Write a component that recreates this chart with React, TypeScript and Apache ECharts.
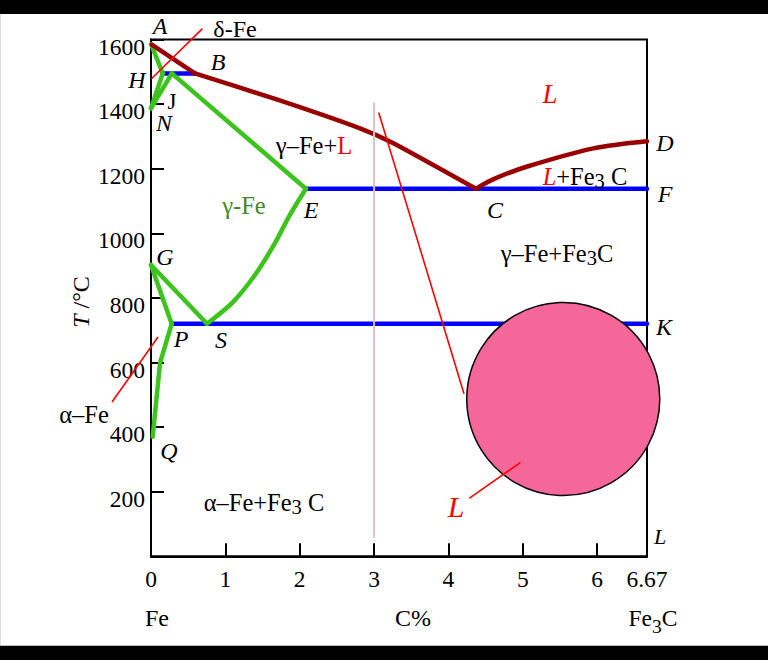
import React, { useEffect, useRef } from 'react';
import * as echarts from 'echarts';

// ---- axis values ----
const xTickValues = [1, 2, 3, 4, 5, 6];
const xLabelValues = [0, 1, 2, 3, 4, 5, 6, 6.67];
const yLabelValues = [200, 400, 600, 800, 1000, 1200, 1400, 1600];

// ---- liquidus (dark red) ----
const liquidusAB = [[0.01, 1584], [0.59, 1495]];
const liquidusBC = [[0.59, 1495], [1.71, 1413], [2.81, 1325], [3.26, 1279], [4.37, 1138]];
const liquidusCD = [[4.37, 1138], [4.6, 1167], [5.05, 1206], [5.95, 1263], [6.67, 1285]];

// ---- phase boundaries (green) ----
const lineAH = [[0, 1586], [0.158, 1495]];
const lineHN = [[0.158, 1495], [0, 1387]];
const lineNJ = [[0, 1387], [0.28, 1495]];
const lineJE = [[0.28, 1495], [2.083, 1138]];
const lineES = [[2.083, 1138], [1.868, 1057], [1.653, 964], [1.398, 871], [1.102, 787], [0.753, 720]];
const lineGS = [[0, 902], [0.753, 720]];
const lineGP = [[0, 902], [0.278, 720]];
const linePQ = [[0.278, 720], [0.121, 598], [0.023, 370]];

// ---- isotherms (blue) ----
const lineHJB = [[0.158, 1495], [0.59, 1495]];
const lineECF = [[2.083, 1138], [6.67, 1138]];
const linePSK = [[0.278, 720], [6.67, 720]];

// ---- annotations ----
const guideX3 = [[3, 60], [3, 1403]];
const redDiagonal = [[3.065, 1372], [4.207, 505]];
const pointerDeltaFe = [[0.013, 1480], [0.685, 1632]];
const pointerL = [[4.288, 181], [4.96, 289]];
const liquidBubble = [[5.544, 487]];

const SERIF = "'Liberation Serif', 'Times New Roman', serif";
const RED_DARK = '#990000';
const GREEN = '#3cc31c';
const BLUE = '#0000ff';

function lineSeries(data: number[][], color: string, width: number, z: number, extra: any = {}) {
  return {
    type: 'line',
    data,
    symbol: 'none',
    showSymbol: false,
    silent: true,
    clip: false,
    z,
    lineStyle: { color, width, cap: 'round', join: 'round' },
    ...extra,
  };
}

function txt(text: string, x: number, y: number, style: any = {}, extra: any = {}) {
  return {
    type: 'text',
    x,
    y,
    z: 100,
    silent: true,
    ...extra,
    style: {
      text,
      align: 'center',
      verticalAlign: 'middle',
      fontFamily: SERIF,
      fontSize: 24,
      fill: '#000',
      ...style,
    },
  };
}

const italic = (t: string, x: number, y: number, size = 24, color = '#000') =>
  txt(t, x, y, { fontStyle: 'italic', fontSize: size, fill: color });

const makeRich = (size: number, drop: number) => ({
  b: { fontFamily: SERIF, fontSize: size, lineHeight: 25, verticalAlign: 'middle', fill: '#000' },
  s: { fontFamily: SERIF, fontSize: size - 4, lineHeight: 25 + 2 * drop, verticalAlign: 'bottom', fill: '#000' },
  r: { fontFamily: SERIF, fontSize: size, lineHeight: 25, verticalAlign: 'middle', fill: '#ff0000' },
  ri: { fontFamily: SERIF, fontSize: size, lineHeight: 25, verticalAlign: 'middle', fill: '#ff0000', fontStyle: 'italic' },
});
const richInPlot = makeRich(24.5, 3);
const richSub = makeRich(23.5, 6);

export default function App() {
  const ref = useRef<HTMLDivElement>(null);

  useEffect(() => {
    if (!ref.current) return;
    const chart = echarts.init(ref.current, null, { renderer: 'svg' });
    const option: any = {
      animation: false,
      backgroundColor: '#ffffff',
      grid: {
        left: 151,
        right: 121,
        top: 39.5,
        bottom: 103.7,
        show: true,
        borderColor: '#000',
        borderWidth: 2,
        backgroundColor: 'transparent',
      },
      xAxis: {
        type: 'value',
        min: 0,
        max: 6.67,
        interval: 1,
        axisLine: { show: true, lineStyle: { color: '#000', width: 2 } },
        axisTick: {
          show: true,
          inside: true,
          length: 13,
          customValues: xTickValues,
          lineStyle: { color: '#000', width: 2 },
        },
        axisLabel: {
          customValues: xLabelValues,
          formatter: (v: number) => String(v),
          margin: 11,
          fontSize: 23.5,
          fontFamily: SERIF,
          color: '#000',
        },
        splitLine: { show: false },
      },
      yAxis: {
        type: 'value',
        min: 0,
        max: 1600,
        interval: 200,
        axisLine: { show: true, lineStyle: { color: '#000', width: 2 } },
        axisTick: {
          show: true,
          inside: true,
          length: 13,
          lineStyle: { color: '#000', width: 2 },
        },
        axisLabel: {
          customValues: yLabelValues,
          formatter: (v: number) => (v === 0 ? '' : String(v)),
          margin: 6,
          verticalAlign: 'top',
          lineHeight: 14,
          fontSize: 23.5,
          fontFamily: SERIF,
          color: '#000',
        },
        splitLine: { show: false },
      },
      series: [
        lineSeries(lineHJB, BLUE, 4.5, 2),
        lineSeries(lineECF, BLUE, 4.5, 2),
        lineSeries(linePSK, BLUE, 4.5, 2),
        lineSeries(lineAH, GREEN, 4.5, 3),
        lineSeries(lineHN, GREEN, 4.5, 3),
        lineSeries(lineNJ, GREEN, 4.5, 3),
        lineSeries(lineJE, GREEN, 4.5, 3),
        lineSeries(lineES, GREEN, 4.5, 3, { smooth: 0.3 }),
        lineSeries(lineGS, GREEN, 4.5, 3),
        lineSeries(lineGP, GREEN, 4.5, 3),
        lineSeries(linePQ, GREEN, 4.5, 3),
        lineSeries(liquidusAB, RED_DARK, 4.5, 4),
        lineSeries(liquidusBC, RED_DARK, 4.5, 4, { smooth: 0.2 }),
        lineSeries(liquidusCD, RED_DARK, 4.5, 4, { smooth: 0.3 }),
        lineSeries(guideX3, '#dcc3c9', 2, 5),
        lineSeries(redDiagonal, '#ff0000', 1.6, 6),
        lineSeries(pointerDeltaFe, '#ff0000', 1.6, 6),
        {
          type: 'scatter',
          data: liquidBubble,
          symbol: 'circle',
          symbolSize: 193,
          clip: false,
          silent: true,
          z: 7,
          itemStyle: { color: '#f56798', borderColor: '#000', borderWidth: 1.5, opacity: 1 },
        },
        lineSeries(pointerL, '#ff0000', 1.6, 8),
      ],
      graphic: [
        { type: 'rect', shape: { x: 0, y: 0, width: 768, height: 14 }, style: { fill: '#000' }, z: 200, silent: true },
        { type: 'rect', shape: { x: 0, y: 646, width: 768, height: 14 }, style: { fill: '#000' }, z: 200, silent: true },
        { type: 'rect', shape: { x: 0, y: 14, width: 1, height: 632 }, style: { fill: '#dcdce8' }, z: 200, silent: true },
        { type: 'rect', shape: { x: 0, y: 645, width: 768, height: 1 }, style: { fill: '#bbbbbb' }, z: 200, silent: true },
        // leader line for the α–Fe label
        { type: 'line', shape: { x1: 158, y1: 337, x2: 112, y2: 402 }, style: { stroke: '#ff0000', lineWidth: 1.6 }, z: 90, silent: true },

        italic('A', 160, 26),
        txt('δ-Fe', 235, 29),
        italic('B', 218, 62),
        italic('H', 137, 80),
        txt('J', 172, 101, { fontSize: 23 }),
        italic('N', 164, 123),
        txt('{b|γ–Fe+}{r|L}', 314, 145, { rich: richInPlot }),
        italic('L', 550, 94, 27, '#ff0000'),
        italic('D', 665, 143),
        txt('{ri|L}{b|+Fe}{s|3}{b| C}', 585, 176, { rich: richInPlot }),
        italic('F', 665, 194),
        txt('γ-Fe', 244, 205, { fontSize: 24.5, fill: '#3f8a22' }),
        italic('E', 311, 210),
        italic('C', 495, 210),
        txt('{b|γ–Fe+Fe}{s|3}{b|C}', 557, 253, { rich: richInPlot }),
        italic('G', 165, 257),
        italic('K', 664, 327),
        italic('P', 181, 339),
        italic('S', 221, 340),
        txt('α–Fe', 84, 414, { fontSize: 24.5 }),
        italic('Q', 169, 451),
        txt('{b|α–Fe+Fe}{s|3}{b| C}', 264, 502, { rich: richInPlot }),
        italic('L', 456, 506, 30, '#ff0000'),
        italic('L', 660, 536, 22),

        txt('Fe', 157, 618),
        txt('C%', 413, 618),
        txt('{b|Fe}{s|3}{b|C}', 653, 618, { rich: richSub }),

        txt('{i|T}{n| /°C}', 81, 302, {
          rich: {
            i: { fontFamily: SERIF, fontSize: 24, fontStyle: 'italic', fill: '#000' },
            n: { fontFamily: SERIF, fontSize: 24, fill: '#000' },
          },
        }, { rotation: Math.PI / 2 }),
      ],
    };
    chart.setOption(option);
    return () => {
      chart.dispose();
    };
  }, []);

  return (
    <div
      ref={ref}
      style={{ position: 'fixed', left: 0, top: 0, width: 768, height: 660 }}
    />
  );
}
